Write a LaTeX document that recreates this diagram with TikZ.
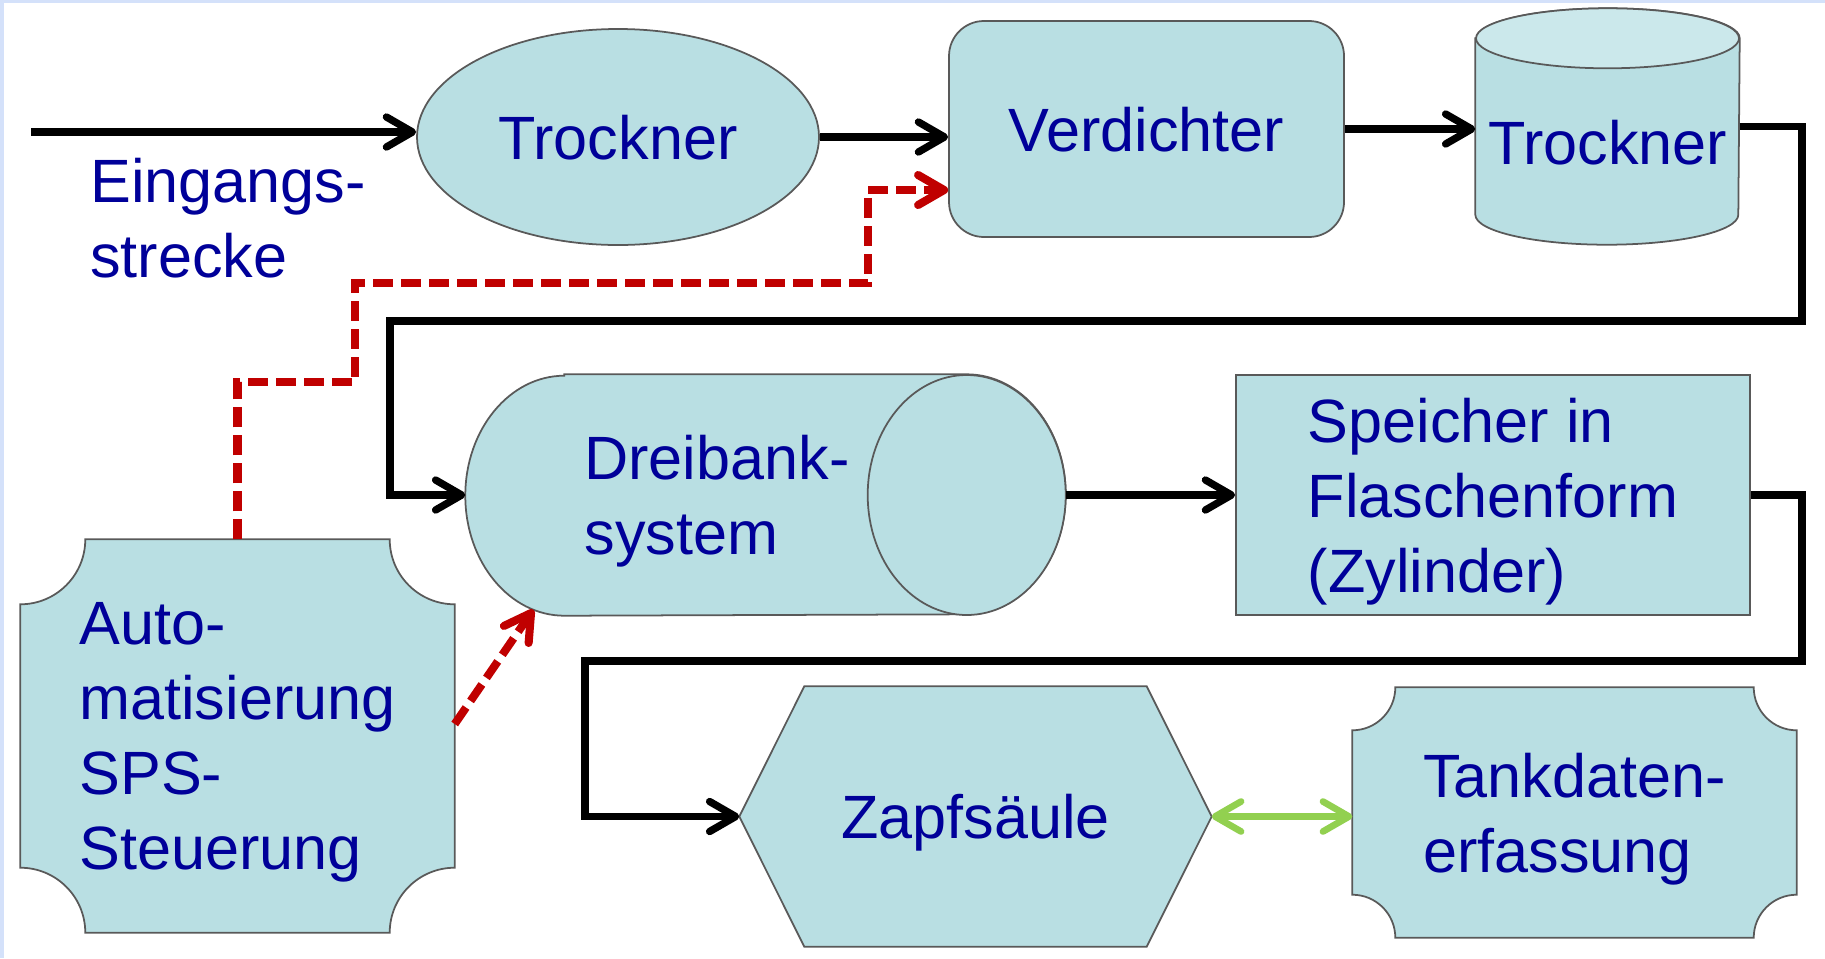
\documentclass[tikz,border=0pt]{standalone}
\usepackage{fontspec}
\setmainfont{Liberation Sans}
\usetikzlibrary{shapes.geometric,arrows.meta}
\pgfdeclarelayer{background}
\pgfsetlayers{background,main}

\definecolor{partfill}{RGB}{185,223,227}
\definecolor{parttop}{RGB}{203,232,235}
\definecolor{parttext}{RGB}{0,0,153}
\definecolor{ctrlred}{RGB}{192,0,0}
\definecolor{datagreen}{RGB}{146,208,80}
\definecolor{slideblue}{RGB}{212,225,250}

\begin{document}
\begin{tikzpicture}[font=\fontsize{17.4}{21.3}\selectfont]
  \tikzstyle{part}=[inner sep=0pt, text=parttext, align=left, text depth=0pt];
  \tikzstyle{hull}=[draw=black!65, line width=0.5pt, fill=partfill];
  \tikzstyle{flow}=[line width=2.1pt, -{Straight Barb[round,length=2.6mm,width=3mm]}];
  \tikzstyle{ctrl}=[line width=2.3pt, ctrlred, dash pattern=on 2mm off 0.8mm, -{Straight Barb[round,length=2.6mm,width=3mm]}];
  \tikzstyle{data}=[line width=1.9pt, datagreen, {Straight Barb[round,length=2.6mm,width=3mm]}-{Straight Barb[round,length=2.6mm,width=3mm]}];

  \useasboundingbox (0,0) rectangle (18.25,-9.58);
  \fill[slideblue] (0,0) rectangle (18.25,-0.03);
  \fill[slideblue] (0,0) rectangle (0.04,-9.58);

  % first row
  \coordinate (inlet) at (0.31,-1.32);
  \node[part] (inlabel) at (2.28,-2.175) {Eingangs-\\strecke};
  \node[part, hull, ellipse, minimum width=4.02cm, minimum height=2.16cm] (dryer) at (6.18,-1.37) {Trockner};
  \node[part, hull, rounded corners=0.35cm, minimum width=3.95cm, minimum height=2.16cm] (comp) at (11.465,-1.29) {Verdichter};
  \node[part, minimum width=2.63cm, minimum height=2.35cm,
        label={[part, yshift=-0.16cm]center:Trockner}] (can) at (16.075,-1.265) {};

  % second row
  \node[part, minimum width=5.99cm, minimum height=2.40cm,
        label={[part, xshift=-0.485cm]center:Dreibank-\\system}] (bank) at (7.655,-4.95) {};
  \node[part, hull, minimum width=5.14cm, minimum height=2.40cm] (store) at (14.93,-4.95) {Speicher in\\Flaschenform\\(Zylinder)};

  % third row
  \node[part, minimum width=4.33cm, minimum height=3.92cm] (auto) at (2.375,-7.36) {Auto-\\matisierung\\SPS-\\Steuerung};
  \node[part, minimum width=4.71cm, minimum height=2.59cm] (pump) at (9.755,-8.165) {Zapfsäule};
  \node[part, minimum width=4.43cm, minimum height=2.49cm] (tank) at (15.745,-8.125) {Tankdaten-\\erfassung};

  \begin{pgfonlayer}{background}
    % vertical can
    \path[hull] ([yshift=-0.30cm]can.north west) -- ([yshift=0.30cm]can.south west)
      arc[start angle=180, end angle=360, x radius=1.315cm, y radius=0.30cm]
      -- ([yshift=-0.30cm]can.north east)
      arc[start angle=0, end angle=180, x radius=1.315cm, y radius=0.30cm] -- cycle;
    \path[hull, fill=parttop] ([yshift=-0.30cm]can.north) ellipse [x radius=1.315cm, y radius=0.30cm];

    % lying cylinder
    \path[hull] ([xshift=0.99cm]bank.north west) -- ([xshift=-0.99cm]bank.north east)
      arc[start angle=90, end angle=-90, x radius=0.99cm, y radius=1.2cm]
      -- ([xshift=0.99cm]bank.south west)
      arc[start angle=270, end angle=90, x radius=0.99cm, y radius=1.2cm] -- cycle;
    \path[hull] ([xshift=-0.99cm]bank.east) ellipse [x radius=0.99cm, y radius=1.2cm];

    % hexagon
    \path[hull] (pump.west) -- ([xshift=0.65cm]pump.north west) -- ([xshift=-0.65cm]pump.north east)
      -- (pump.east) -- ([xshift=-0.65cm]pump.south east) -- ([xshift=0.65cm]pump.south west) -- cycle;

    % boxes with cut corners
    \foreach \n/\r in {auto/0.65cm, tank/0.43cm}
      \path[hull] ([xshift=\r]\n.north west) -- ([xshift=-\r]\n.north east)
        arc[start angle=180, end angle=270, radius=\r] -- ([yshift=\r]\n.south east)
        arc[start angle=90, end angle=180, radius=\r] -- ([xshift=\r]\n.south west)
        arc[start angle=0, end angle=90, radius=\r] -- ([yshift=-\r]\n.north west)
        arc[start angle=-90, end angle=0, radius=\r] -- cycle;
  \end{pgfonlayer}

  % flow
  \coordinate (bend1) at (18.02,-3.21);
  \coordinate (bend2) at (3.90,-4.95);
  \coordinate (bend3) at (18.02,-6.61);
  \coordinate (bend4) at (5.85,-8.165);
  \draw[flow] (inlet) -- (inlet -| dryer.west);
  \draw[flow] (dryer.east) -- (dryer.east -| comp.west);
  \draw[flow] (comp.east) -- (comp.east -| can.west);
  \draw[flow] (can.east) -| (bend1) -| (bend2) -- (bank.west);
  \draw[flow] (bank.east) -- (store.west);
  \draw[flow] (store.east) -| (bend3) -| (bend4) -- (pump.west);
  \draw[data] (pump.east) -- (pump.east -| tank.west);

  % control
  \coordinate (ctrl1) at (3.55,-3.82);
  \coordinate (ctrl2) at (8.68,-2.83);
  \draw[ctrl] (auto.north) |- (ctrl1) |- (ctrl2) |- ([yshift=-0.61cm]comp.west);
  \draw[ctrl] ([yshift=0.12cm]auto.east) -- ([xshift=0.68cm,yshift=0.06cm]bank.south west);
\end{tikzpicture}
\end{document}
